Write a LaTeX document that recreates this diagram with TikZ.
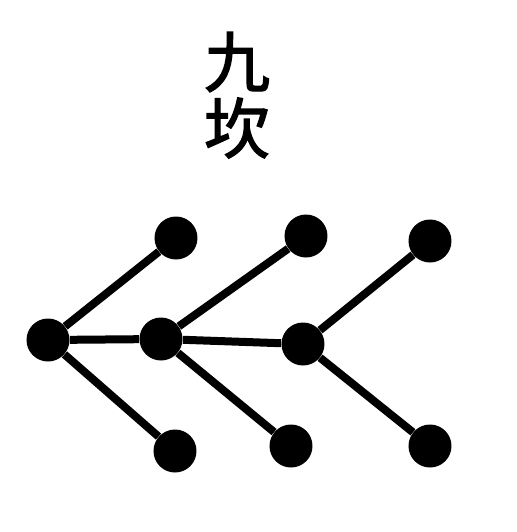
\documentclass[tikz,border=0pt]{standalone}
\usepackage{fontspec}
\newfontfamily\cjk[FakeBold=2]{Noto Sans CJK SC}
\usetikzlibrary{positioning}
\tikzset{
  knot/.style={
    circle,
    fill=black,
    inner sep=0pt,
    minimum size=21.5pt},
  line/.style={draw, line width=4pt},
  sign/.style={
    font=\cjk\fontsize{33}{33}\selectfont,
    inner sep=0pt},
}
\begin{document}
\begin{tikzpicture}
  [x=0.5pt, y=-0.5pt]
  \useasboundingbox (0,0) rectangle (517,532);
     \node[sign] (jiu) at (237,62) {九};
     \node[sign] (kan) at (237,128) {坎};
     % middle row
     \node[knot] (m1) at (48,340) {};
     \node[knot] (m2) at (161,339) {};
     \node[knot] (m3) at (303,344) {};
     % upper row
     \node[knot] (u1) at (176,238) {};
     \node[knot] (u2) at (306,236) {};
     \node[knot] (u3) at (430,241) {};
     % lower row
     \node[knot] (d1) at (175,451) {};
     \node[knot] (d2) at (291,446) {};
     \node[knot] (d3) at (430,446) {};
     \path[line] (m1) -- (m2) -- (m3);
     \foreach \i in {1,2,3}
       \path[line] (u\i) -- (m\i) -- (d\i);
\end{tikzpicture}
\end{document}
